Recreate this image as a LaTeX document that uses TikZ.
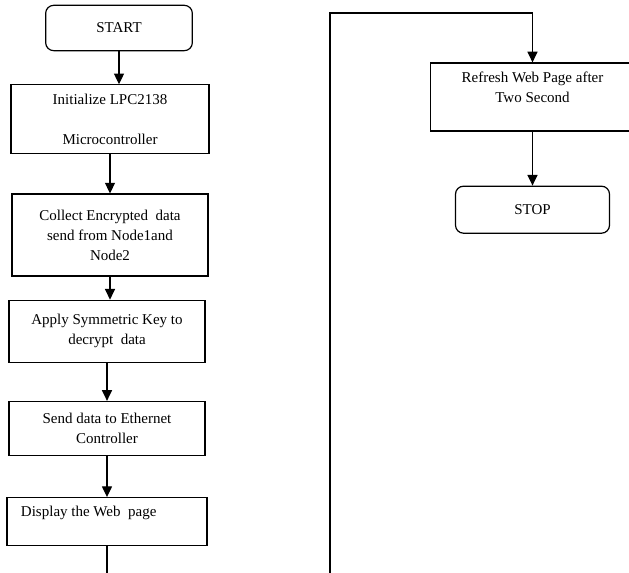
\documentclass[tikz,border=0pt]{standalone}
\usepackage{fontspec}
\setmainfont{Liberation Serif}
\usetikzlibrary{arrows.meta, positioning}

\begin{document}
\begin{tikzpicture}[
    x=0.75pt, y=-0.75pt,
    font=\fontsize{11.25}{15}\selectfont,
    every path/.style={line width=0.9pt},
    box/.style={rectangle, draw, align=center, minimum width=147pt, inner sep=2pt},
    term/.style={box, rounded corners=6pt, minimum width=110pt, minimum height=34pt},
    arrow/.style={-{Triangle[length=8pt, width=7.5pt]}}
]
\useasboundingbox (0,0) rectangle (629,573);

% Nodes (left column)
\node[term] (start) at (119,28) {START};
\node[box, below=24.75pt of start, xshift=-6.75pt, minimum width=148.5pt, minimum height=51.75pt] (init) {Initialize LPC2138\\[15pt]Microcontroller};
\node[box, below=29.25pt of init, minimum height=61.5pt] (collect) {Collect Encrypted~ data\\send from Node1and\\Node2};
\node[box, below=17.25pt of collect, xshift=-2.25pt, minimum height=46.5pt] (apply) {Apply Symmetric Key to\\decrypt~ data};
\node[box, below=28.5pt of apply, minimum height=40.5pt] (send) {Send data to Ethernet\\Controller};
\node[box, below=30.75pt of send, minimum height=36pt, text width=129pt, align=flush left, inner xsep=10.5pt] (display) {Display the Web~ page\\\mbox{}};

% Nodes (right column)
\node[box, minimum width=153pt, minimum height=51pt] (refresh) at (532.5,97) {Refresh Web Page after\\Two Second\\\mbox{}};
\node[term, below=40.5pt of refresh, minimum width=115.5pt, minimum height=35.25pt] (stop) {STOP};

\coordinate (tailL) at (display.south |- 0,573);
\coordinate (tailR) at (330,573);

% Arrows
\draw[arrow] (start.south) -- (start.south |- init.north);
\draw[arrow] (init.south) -- (init.south |- collect.north);
\draw[arrow] (collect.south) -- (collect.south |- apply.north);
\draw[arrow] (apply.south) -- (apply.south |- send.north);
\draw[arrow] (send.south) -- (send.south |- display.north);
\draw (display.south) -- (tailL);
\draw[arrow] (tailR) -- ++(0,-560) -| (refresh.north);
\draw[arrow] (refresh.south) -- (refresh.south |- stop.north);

\end{tikzpicture}
\end{document}
